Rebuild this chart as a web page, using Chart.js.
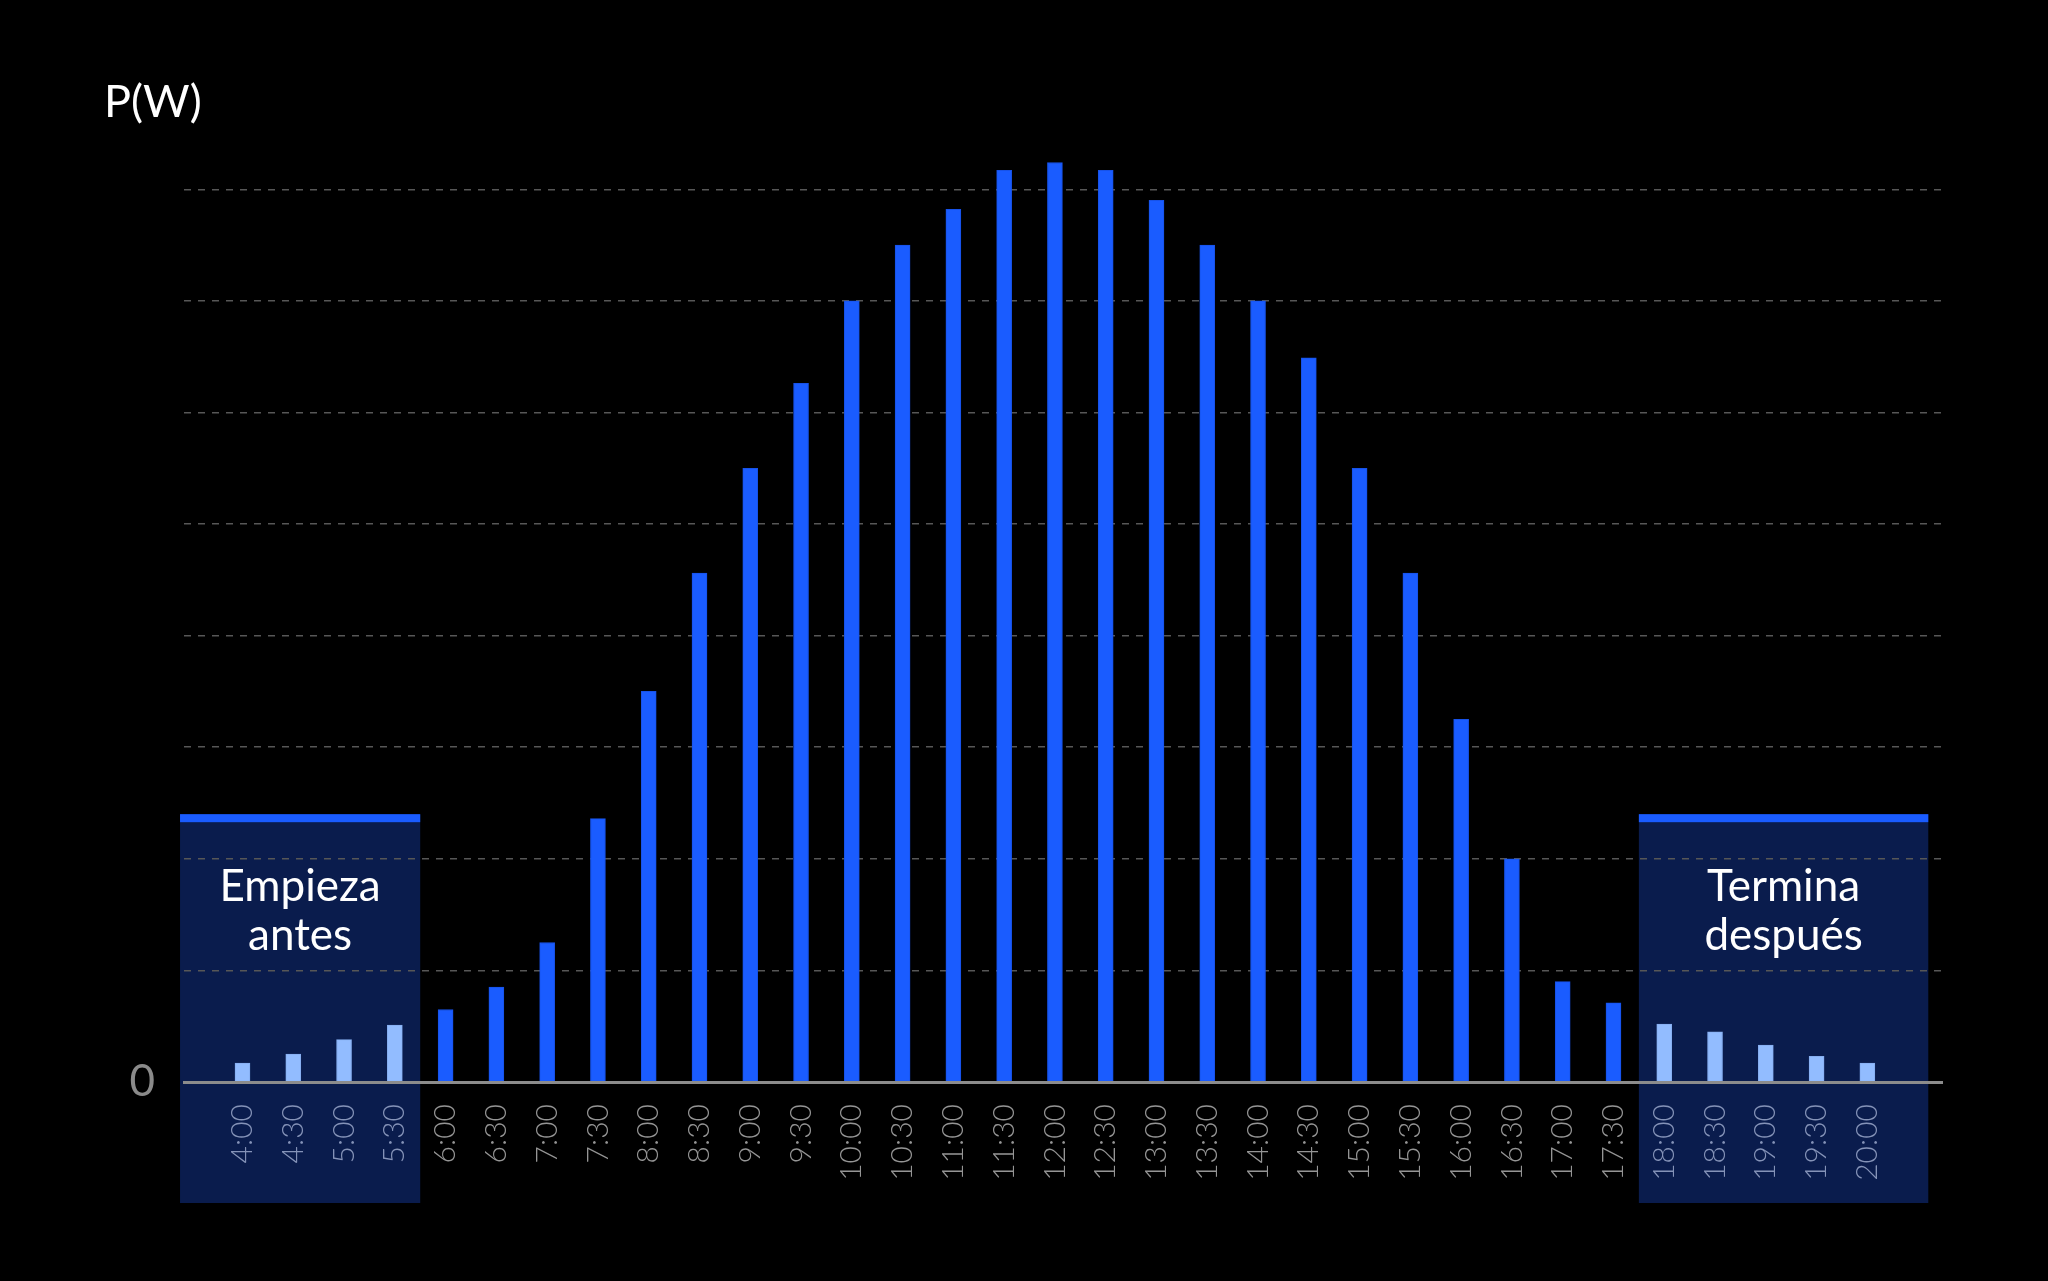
<!DOCTYPE html>
<html>
<head>
<meta charset="utf-8">
<script src="https://cdn.jsdelivr.net/npm/chart.js@4/dist/chart.umd.min.js"></script>
<style>
  html, body { margin: 0; padding: 0; background: #000; }
  #wrap { width: 2048px; height: 1281px; position: relative; }
</style>
</head>
<body>
<div id="wrap"><canvas id="c"></canvas></div>
<script>
// ---- data ----
const timeLabels = ['4:00','4:30','5:00','5:30','6:00','6:30','7:00','7:30','8:00','8:30','9:00','9:30',
  '10:00','10:30','11:00','11:30','12:00','12:30','13:00','13:30','14:00','14:30','15:00','15:30',
  '16:00','16:30','17:00','17:30','18:00','18:30','19:00','19:30','20:00'];
const powerValues = [17,25,38,51,65,85,125,236,350,456,550,626,
  700,750,782,817,824,817,790,750,700,649,550,456,
  325,200,90,71,52,45,33,23,17];
const earlyLabels = ['4:00','4:30','5:00','5:30'];
const lateLabels = ['18:00','18:30','19:00','19:30','20:00'];
const earlyText = ['Empieza','antes'];
const lateText = ['Termina','después'];
const yGridTicks = [0,100,200,300,400,500,600,700,800];
const yAxisTitle = 'P(W)';

// ---- styles ----
const BLUE = '#1a5cff';
const LIGHT = '#92bcff';
const NAVY = '#0a1c4d';
const FONT = 'Lato, "Noto Sans", sans-serif';

const earlyIdx = earlyLabels.map(l => timeLabels.indexOf(l));
const lateIdx = lateLabels.map(l => timeLabels.indexOf(l));
const isSide = i => earlyIdx.includes(i) || lateIdx.includes(i);

const points = powerValues.map((v, i) => ({ x: i, y: v }));

function boxEdges(x) {
  return [
    [x.getPixelForValue(Math.min(...earlyIdx) - 1.23), x.getPixelForValue(Math.max(...earlyIdx) + 0.5)],
    [x.getPixelForValue(Math.min(...lateIdx) - 0.5), x.getPixelForValue(Math.max(...lateIdx) + 1.2)]
  ];
}

const decor = {
  id: 'decor',
  beforeDraw(chart) {
    const { ctx, scales: { x, y }, chartArea } = chart;
    ctx.save();
    ctx.fillStyle = '#000';
    ctx.fillRect(0, 0, chart.width, chart.height);
    const top = y.getPixelForValue(240);
    const bottom = chartArea.bottom + 121;
    boxEdges(x).forEach(([l, r]) => {
      ctx.fillStyle = NAVY;
      ctx.fillRect(l, top, r - l, bottom - top);
      ctx.fillStyle = BLUE;
      ctx.fillRect(l, top, r - l, 8);
    });
    ctx.restore();
  },
  afterDraw(chart) {
    const { ctx, scales: { x, y } } = chart;
    const top = y.getPixelForValue(240);
    const [[el, er], [ll, lr]] = boxEdges(x);
    ctx.save();
    ctx.fillStyle = '#ffffff';
    ctx.font = '400 44px ' + FONT;
    ctx.textAlign = 'center';
    ctx.textBaseline = 'alphabetic';
    earlyText.forEach((t, k) => ctx.fillText(t, (el + er) / 2, top + 87 + k * 49));
    lateText.forEach((t, k) => ctx.fillText(t, (ll + lr) / 2, top + 87 + k * 49));
    ctx.textAlign = 'left';
    ctx.font = '400 45px ' + FONT;
    ctx.fillText(yAxisTitle, 104, 117);
    ctx.restore();
  }
};

new Chart(document.getElementById('c'), {
  type: 'bar',
  data: {
    datasets: [{
      data: points,
      backgroundColor: ctx => isSide(ctx.dataIndex) ? LIGHT : BLUE,
      borderColor: ctx => isSide(ctx.dataIndex) ? '#86aef0' : '#1752e8',
      borderWidth: 1,
      borderSkipped: 'bottom',
      barThickness: 15
    }]
  },
  options: {
    responsive: true,
    maintainAspectRatio: false,
    devicePixelRatio: 1,
    animation: false,
    layout: { padding: { left: 0, right: 106, top: 100, bottom: 0 } },
    plugins: { legend: { display: false }, tooltip: { enabled: false }, title: { display: false } },
    scales: {
      x: {
        type: 'linear',
        offset: false,
        min: -1.152,
        max: 33.47,
        afterBuildTicks: axis => { axis.ticks = timeLabels.map((l, i) => ({ value: i })); },
        afterFit: s => { s.height = 199; },
        grid: { display: false, drawTicks: false, offset: false },
        border: { display: true, color: '#8c8c8c', width: 3, z: 1 },
        ticks: {
          autoSkip: false,
          minRotation: 90,
          maxRotation: 90,
          padding: 22,
          font: { family: FONT, size: 30, weight: '300' },
          color: ctx => isSide(ctx.tick ? ctx.tick.value : ctx.index) ? '#8593b8' : '#959595',
          callback: v => timeLabels[v] ?? ''
        }
      },
      y: {
        type: 'linear',
        min: 0,
        max: 880,
        afterBuildTicks: axis => { axis.ticks = yGridTicks.map(v => ({ value: v })); },
        afterFit: s => { s.width = 184; },
        grid: {
          drawTicks: false,
          lineWidth: 1.5,
          color: ctx => (ctx.tick && ctx.tick.value === 0) ? 'rgba(0,0,0,0)' : '#575757'
        },
        border: { display: false, dash: [7, 7] },
        ticks: {
          padding: 29,
          font: { family: FONT, size: 44, weight: '400' },
          color: '#8a8a8a',
          callback: v => v === 0 ? '0' : ''
        }
      }
    }
  },
  plugins: [decor]
});
</script>
</body>
</html>
